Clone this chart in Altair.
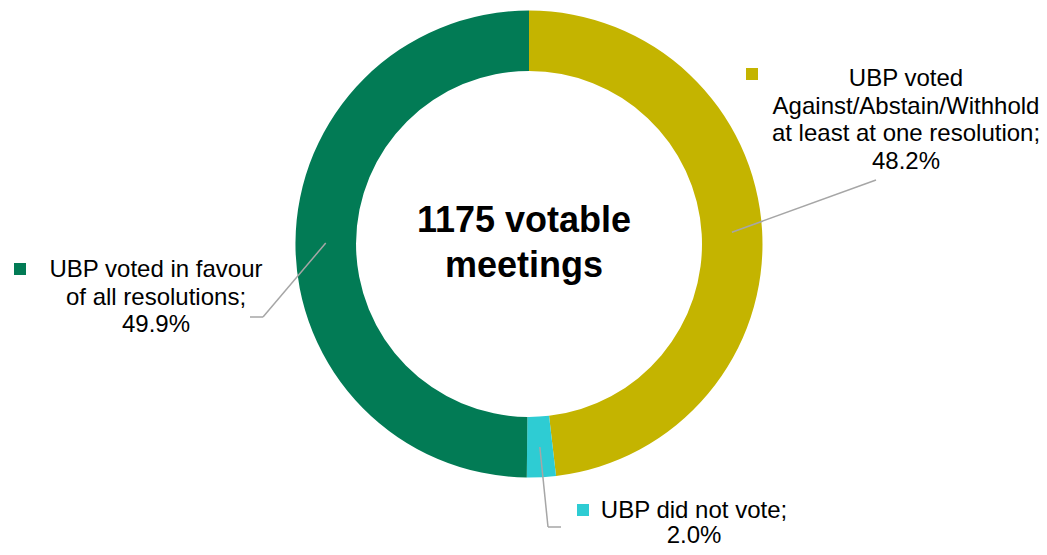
import math
import altair as alt
import pandas as pd

# ---- data ----
categories = [
    "UBP voted Against/Abstain/Withhold at least at one resolution",
    "UBP did not vote",
    "UBP voted in favour of all resolutions",
]
values = [48.2, 2.0, 49.9]
colors = ["#C4B400", "#2ECCD3", "#027B55"]
label_text = [
    ["UBP voted", "Against/Abstain/Withhold", "at least at one resolution;"],
    ["UBP did not vote;"],
    ["UBP voted in favour", "of all resolutions;"],
]
center_title = ["1175 votable", "meetings"]

# ---- layout (pixels, chart coordinates; page = chart + 8) ----
W, H = 1031, 539
CX, CY = 521, 236
R_OUT, R_IN = 233.5, 173
FONT = "Liberation Sans"

label_x = [898, 686, 148]
label_y0 = [78, 510, 269]
line_h = [27.5, 24.5, 27.5]
marker_pos = [(744, 66), (575, 502), (12, 261)]
leader_paths = [
    [(868, 172)],
    [(540, 519), (553, 519)],
    [(255, 309), (242, 309)],
]

df = pd.DataFrame({"category": categories, "value": values, "order": list(range(len(values)))})

arc = alt.Chart(df).mark_arc(outerRadius=R_OUT, innerRadius=R_IN).encode(
    theta=alt.Theta("value:Q", stack=True),
    color=alt.Color("category:N", scale=alt.Scale(domain=categories, range=colors), legend=None),
    order=alt.Order("order:Q"),
    x=alt.value(CX),
    y=alt.value(CY),
)

# leader lines start at slice mid-angle on the ring's middle radius
total = sum(values)
r_mid = (R_OUT + R_IN) / 2
segs = []
cum = 0.0
for i, v in enumerate(values):
    ang = (cum + v / 2) / total * 2 * math.pi
    cum += v
    sx = CX + r_mid * math.sin(ang)
    sy = CY - r_mid * math.cos(ang)
    pts = [(sx, sy)] + leader_paths[i]
    for a, b in zip(pts[:-1], pts[1:]):
        segs.append({"x": a[0], "y": a[1], "x2": b[0], "y2": b[1]})
seg_df = pd.DataFrame(segs)

leaders = alt.Chart(seg_df).mark_rule(color="#A6A6A6", strokeWidth=1.5).encode(
    x=alt.X("x:Q", scale=None, axis=None),
    y=alt.Y("y:Q", scale=None, axis=None),
    x2="x2:Q",
    y2="y2:Q",
)

rows = []
for i, v in enumerate(values):
    lines = label_text[i] + [f"{v:.1f}%"]
    for j, t in enumerate(lines):
        rows.append({"x": label_x[i], "y": label_y0[i] + j * line_h[i], "text": t})
txt_df = pd.DataFrame(rows)

labels = alt.Chart(txt_df).mark_text(
    font=FONT, fontSize=24, align="center", baseline="alphabetic", color="#000000"
).encode(
    x=alt.X("x:Q", scale=None, axis=None),
    y=alt.Y("y:Q", scale=None, axis=None),
    text="text:N",
)

mk_df = pd.DataFrame({
    "x": [p[0] for p in marker_pos],
    "y": [p[1] for p in marker_pos],
    "category": categories,
})
markers = alt.Chart(mk_df).mark_square(size=144, opacity=1, filled=True).encode(
    x=alt.X("x:Q", scale=None, axis=None),
    y=alt.Y("y:Q", scale=None, axis=None),
    color=alt.Color("category:N", scale=alt.Scale(domain=categories, range=colors), legend=None),
)

ct_df = pd.DataFrame({"x": [516, 516], "y": [224, 269], "text": center_title})
center = alt.Chart(ct_df).mark_text(
    font=FONT, fontSize=36, fontWeight="bold", align="center", baseline="alphabetic", color="#000000"
).encode(
    x=alt.X("x:Q", scale=None, axis=None),
    y=alt.Y("y:Q", scale=None, axis=None),
    text="text:N",
)

chart = alt.layer(arc, leaders, markers, labels, center).properties(
    width=W, height=H, padding=0, autosize=alt.AutoSizeParams(type="none")
).configure_view(stroke=None)

chart.save("out.html", embed_options={"renderer": "svg", "actions": False})
